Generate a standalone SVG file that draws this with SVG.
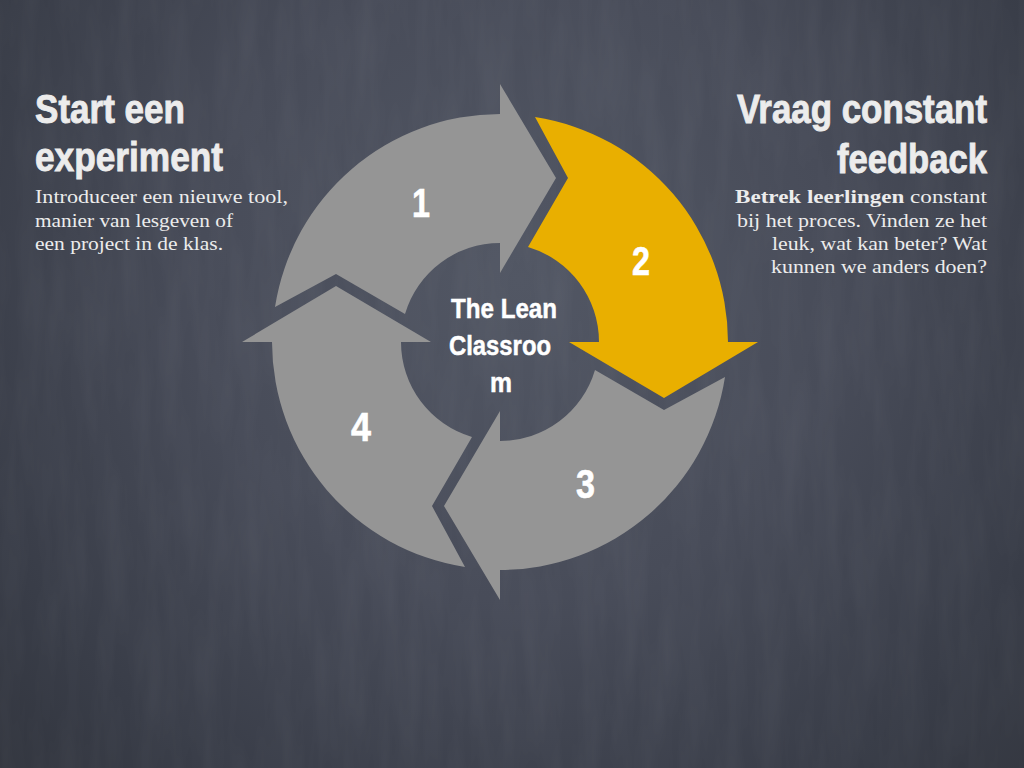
<svg xmlns="http://www.w3.org/2000/svg" width="1024" height="768" viewBox="0 0 1024 768">
  <defs>
    <radialGradient id="bg" cx="520" cy="280" r="800" gradientUnits="userSpaceOnUse">
      <stop offset="0" stop-color="#525764"/>
      <stop offset="0.4" stop-color="#484c59"/>
      <stop offset="0.72" stop-color="#393d48"/>
      <stop offset="1" stop-color="#2e3139"/>
    </radialGradient>
    <filter id="chalk" x="0" y="0" width="100%" height="100%">
      <feTurbulence type="fractalNoise" baseFrequency="0.05 0.008" numOctaves="3" seed="11" result="n"/>
      <feColorMatrix type="matrix" values="0 0 0 0 1  0 0 0 0 1  0 0 0 0 1  0 0 0 0.06 -0.02" in="n"/>
    </filter>
    <path id="arrow" d="M -225,-35 A 228 228 0 0 1 0,-228 L 0,-258 L 56,-164 L 0,-69 L 0,-99 A 99 99 0 0 0 -95,-28 L -164,-68 Z"/>
    <style>
      .head { font-family: "Liberation Sans", Arial, sans-serif; font-weight: bold; font-size: 41px; fill: #ececec; stroke: #ececec; stroke-width: 0.9px; }
      .body { font-family: "Liberation Serif", "Times New Roman", serif; font-size: 18.5px; fill: #ececec; }
      .end { text-anchor: end; }
      .num { font-family: "Liberation Sans", Arial, sans-serif; font-weight: bold; font-size: 40px; fill: #ffffff; stroke: #ffffff; stroke-width: 0.6px; }
      .center { font-family: "Liberation Sans", Arial, sans-serif; font-weight: bold; font-size: 28px; fill: #ffffff; stroke: #ffffff; stroke-width: 0.5px; }
      .gray { fill: #959595; }
      .yellow { fill: #e9af00; }
    </style>
  </defs>

  <rect width="1024" height="768" fill="url(#bg)"/>
  <rect width="1024" height="768" filter="url(#chalk)"/>

  <g id="arrow1" transform="translate(500,342)">
    <use href="#arrow" class="gray"/>
  </g>
  <g id="arrow2" transform="translate(500,342) rotate(90)">
    <use href="#arrow" class="yellow"/>
  </g>
  <g id="arrow3" transform="translate(500,342) rotate(180)">
    <use href="#arrow" class="gray"/>
  </g>
  <g id="arrow4" transform="translate(500,342) rotate(270)">
    <use href="#arrow" class="gray"/>
  </g>

  <g id="numbers">
    <text class="num" x="412" y="217" textLength="18" lengthAdjust="spacingAndGlyphs">1</text>
    <text class="num" x="632" y="275" textLength="18" lengthAdjust="spacingAndGlyphs">2</text>
    <text class="num" x="576" y="498" textLength="19" lengthAdjust="spacingAndGlyphs">3</text>
    <text class="num" x="351" y="441" textLength="20" lengthAdjust="spacingAndGlyphs">4</text>
  </g>

  <g id="center-label">
    <text class="center" x="451" y="318" textLength="106" lengthAdjust="spacingAndGlyphs">The Lean</text>
    <text class="center" x="449" y="355" textLength="102" lengthAdjust="spacingAndGlyphs">Classroo</text>
    <text class="center" x="490" y="392" textLength="22" lengthAdjust="spacingAndGlyphs">m</text>
  </g>

  <g id="left-block">
    <text class="head" transform="translate(35,123) scale(0.85,1)" textLength="176.5" lengthAdjust="spacingAndGlyphs">Start een</text>
    <text class="head" transform="translate(35,171) scale(0.85,1)" textLength="221.2" lengthAdjust="spacingAndGlyphs">experiment</text>
    <text class="body" x="35" y="203" textLength="253" lengthAdjust="spacingAndGlyphs">Introduceer een nieuwe tool,</text>
    <text class="body" x="35" y="227" textLength="198" lengthAdjust="spacingAndGlyphs">manier van lesgeven of</text>
    <text class="body" x="35" y="250" textLength="188" lengthAdjust="spacingAndGlyphs">een project in de klas.</text>
  </g>

  <g id="right-block">
    <text class="head end" transform="translate(987,123) scale(0.85,1)" textLength="294.1" lengthAdjust="spacingAndGlyphs">Vraag constant</text>
    <text class="head end" transform="translate(987,173) scale(0.85,1)" textLength="176.5" lengthAdjust="spacingAndGlyphs">feedback</text>
    <text class="body end" x="987" y="203" textLength="252" lengthAdjust="spacingAndGlyphs"><tspan font-weight="bold">Betrek leerlingen</tspan> constant</text>
    <text class="body end" x="987" y="227" textLength="250" lengthAdjust="spacingAndGlyphs">bij het proces. Vinden ze het</text>
    <text class="body end" x="987" y="250" textLength="215" lengthAdjust="spacingAndGlyphs">leuk, wat kan beter? Wat</text>
    <text class="body end" x="987" y="273" textLength="216" lengthAdjust="spacingAndGlyphs">kunnen we anders doen?</text>
  </g>
</svg>
